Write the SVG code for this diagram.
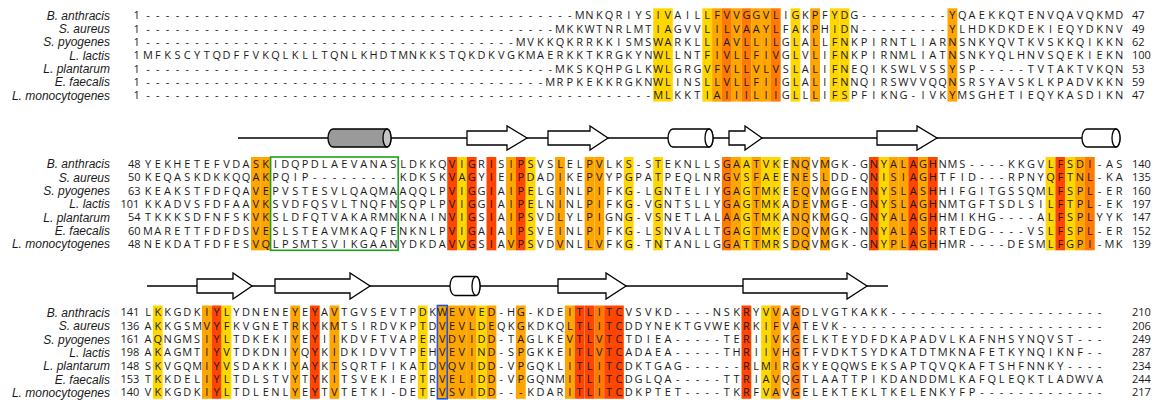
<svg xmlns="http://www.w3.org/2000/svg" width="1164" height="400" viewBox="0 0 1164 400">
<style>
.res{font-family:"Open Sans","Liberation Sans",sans-serif;font-size:11px;text-anchor:middle;fill:#1a1a1a}
.lbl{font-family:"Liberation Sans",Arial,sans-serif;font-style:italic;font-size:12px;text-anchor:end;fill:#1a1a1a}
.num{font-family:"Open Sans","Liberation Sans",sans-serif;font-size:11px;fill:#1a1a1a}
.y{fill:#FFD700}.a{fill:#FFA500}.b{fill:#FF7A00}.r{fill:#FF4500}
.ss{fill:none;stroke:#000;stroke-width:1.5}
.arr{fill:#fff;stroke:#000;stroke-width:1.3;stroke-linejoin:miter}
.cyl{fill:#fff;stroke:#000;stroke-width:1.3}
.cylg{fill:#9a9a9a;stroke:#000;stroke-width:1.3}
.capg{fill:#c4c4c4;stroke:#000;stroke-width:1.3}
</style>

<!-- block 1: residues 1-100 -->
<g id="block1">
  <g id="b1-shading">
    <rect class="y" x="653.2" y="8.3" width="9.81" height="93.3"/>
    <rect class="y" x="663.0" y="8.3" width="9.81" height="93.3"/>
    <rect class="y" x="702.3" y="8.3" width="9.81" height="93.3"/>
    <rect class="a" x="712.1" y="8.3" width="9.81" height="93.3"/>
    <rect class="b" x="721.9" y="8.3" width="9.81" height="93.3"/>
    <rect class="a" x="731.7" y="8.3" width="9.81" height="93.3"/>
    <rect class="b" x="741.5" y="8.3" width="9.81" height="93.3"/>
    <rect class="a" x="751.3" y="8.3" width="9.81" height="93.3"/>
    <rect class="a" x="761.1" y="8.3" width="9.81" height="93.3"/>
    <rect class="b" x="770.9" y="8.3" width="9.81" height="93.3"/>
    <rect class="y" x="790.6" y="8.3" width="9.81" height="93.3"/>
    <rect class="a" x="810.2" y="8.3" width="9.81" height="93.3"/>
    <rect class="y" x="829.8" y="8.3" width="9.81" height="93.3"/>
    <rect class="y" x="839.6" y="8.3" width="9.81" height="93.3"/>
    <rect class="a" x="947.5" y="8.3" width="9.81" height="93.3"/>
  </g>
  <g id="b1-labels">
    <text class="lbl" x="110" y="19.6">B. anthracis</text>
    <text class="lbl" x="110" y="32.9">S. aureus</text>
    <text class="lbl" x="110" y="46.3">S. pyogenes</text>
    <text class="lbl" x="110" y="59.6">L. lactis</text>
    <text class="lbl" x="110" y="72.9">L. plantarum</text>
    <text class="lbl" x="110" y="86.3">E. faecalis</text>
    <text class="lbl" x="110" y="99.6">L. monocytogenes</text>
  </g>
  <g id="b1-start" class="num">
    <text x="133.5" y="19.2">1</text><text x="133.5" y="32.5">1</text><text x="133.5" y="45.9">1</text><text x="133.5" y="59.2">1</text><text x="133.5" y="72.5">1</text><text x="133.5" y="85.9">1</text><text x="133.5" y="99.2">1</text>
  </g>
  <g id="b1-end" class="num">
    <text x="1132" y="19.2">47</text><text x="1132" y="32.5">49</text><text x="1132" y="45.9">62</text><text x="1132" y="59.2">100</text><text x="1132" y="72.5">53</text><text x="1132" y="85.9">59</text><text x="1132" y="99.2">47</text>
  </g>
  <g id="b1-seq" class="res">
    <text y="19.2" x="148 157.8 167.6 177.4 187.2 197.1 206.9 216.7 226.5 236.3 246.1 255.9 265.7 275.5 285.3 295.2 305 314.8 324.6 334.4 344.2 354 363.8 373.6 383.4 393.3 403.1 412.9 422.7 432.5 442.3 452.1 461.9 471.7 481.5 491.4 501.2 511 520.8 530.6 540.4 550.2 560 569.8 579.6 589.5 599.3 609.1 618.9 628.7 638.5 648.3 658.1 667.9 677.7 687.6 697.4 707.2 717 726.8 736.6 746.4 756.2 766 775.8 785.7 795.5 805.3 815.1 824.9 834.7 844.5 854.3 864.1 873.9 883.8 893.6 903.4 913.2 923 932.8 942.6 952.4 962.2 972 981.9 991.7 1001.5 1011.3 1021.1 1030.9 1040.7 1050.5 1060.3 1070.1 1080 1089.8 1099.6 1109.4 1119.2">--------------------------------------------MNKQRIYSIVAILLFVVGGVLIGKPFYDG---------YQAEKKQTENVQAVQKMD</text>
    <text y="32.5" x="148 157.8 167.6 177.4 187.2 197.1 206.9 216.7 226.5 236.3 246.1 255.9 265.7 275.5 285.3 295.2 305 314.8 324.6 334.4 344.2 354 363.8 373.6 383.4 393.3 403.1 412.9 422.7 432.5 442.3 452.1 461.9 471.7 481.5 491.4 501.2 511 520.8 530.6 540.4 550.2 560 569.8 579.6 589.5 599.3 609.1 618.9 628.7 638.5 648.3 658.1 667.9 677.7 687.6 697.4 707.2 717 726.8 736.6 746.4 756.2 766 775.8 785.7 795.5 805.3 815.1 824.9 834.7 844.5 854.3 864.1 873.9 883.8 893.6 903.4 913.2 923 932.8 942.6 952.4 962.2 972 981.9 991.7 1001.5 1011.3 1021.1 1030.9 1040.7 1050.5 1060.3 1070.1 1080 1089.8 1099.6 1109.4 1119.2">------------------------------------------MKKWTNRLMTIAGVVLILVAAYLFAKPHIDN---------YLHDKDKDEKIEQYDKNV</text>
    <text y="45.9" x="148 157.8 167.6 177.4 187.2 197.1 206.9 216.7 226.5 236.3 246.1 255.9 265.7 275.5 285.3 295.2 305 314.8 324.6 334.4 344.2 354 363.8 373.6 383.4 393.3 403.1 412.9 422.7 432.5 442.3 452.1 461.9 471.7 481.5 491.4 501.2 511 520.8 530.6 540.4 550.2 560 569.8 579.6 589.5 599.3 609.1 618.9 628.7 638.5 648.3 658.1 667.9 677.7 687.6 697.4 707.2 717 726.8 736.6 746.4 756.2 766 775.8 785.7 795.5 805.3 815.1 824.9 834.7 844.5 854.3 864.1 873.9 883.8 893.6 903.4 913.2 923 932.8 942.6 952.4 962.2 972 981.9 991.7 1001.5 1011.3 1021.1 1030.9 1040.7 1050.5 1060.3 1070.1 1080 1089.8 1099.6 1109.4 1119.2">--------------------------------------MVKKQKRRKKISMSWARKLLIAVLLILGLALLFNKPIRNTLIARNSNKYQVTKVSKKQIKKN</text>
    <text y="59.2" x="148 157.8 167.6 177.4 187.2 197.1 206.9 216.7 226.5 236.3 246.1 255.9 265.7 275.5 285.3 295.2 305 314.8 324.6 334.4 344.2 354 363.8 373.6 383.4 393.3 403.1 412.9 422.7 432.5 442.3 452.1 461.9 471.7 481.5 491.4 501.2 511 520.8 530.6 540.4 550.2 560 569.8 579.6 589.5 599.3 609.1 618.9 628.7 638.5 648.3 658.1 667.9 677.7 687.6 697.4 707.2 717 726.8 736.6 746.4 756.2 766 775.8 785.7 795.5 805.3 815.1 824.9 834.7 844.5 854.3 864.1 873.9 883.8 893.6 903.4 913.2 923 932.8 942.6 952.4 962.2 972 981.9 991.7 1001.5 1011.3 1021.1 1030.9 1040.7 1050.5 1060.3 1070.1 1080 1089.8 1099.6 1109.4 1119.2">MFKSCYTQDFFVKQLKLLTQNLKHDTMNKKSTQKDKVGKMAERKKTKRGKYNWLLNTFIVLLFIVGLVLIFNKPIRNMLIATNSNKYQLHNVSQEKIEKN</text>
    <text y="72.5" x="148 157.8 167.6 177.4 187.2 197.1 206.9 216.7 226.5 236.3 246.1 255.9 265.7 275.5 285.3 295.2 305 314.8 324.6 334.4 344.2 354 363.8 373.6 383.4 393.3 403.1 412.9 422.7 432.5 442.3 452.1 461.9 471.7 481.5 491.4 501.2 511 520.8 530.6 540.4 550.2 560 569.8 579.6 589.5 599.3 609.1 618.9 628.7 638.5 648.3 658.1 667.9 677.7 687.6 697.4 707.2 717 726.8 736.6 746.4 756.2 766 775.8 785.7 795.5 805.3 815.1 824.9 834.7 844.5 854.3 864.1 873.9 883.8 893.6 903.4 913.2 923 932.8 942.6 952.4 962.2 972 981.9 991.7 1001.5 1011.3 1021.1 1030.9 1040.7 1050.5 1060.3 1070.1 1080 1089.8 1099.6 1109.4 1119.2">------------------------------------------MKSKQHPGLKWLGRGVFVLLVLVSLALIFNEQIKSWLVSSYSP-----TVTAKTVKQN</text>
    <text y="85.9" x="148 157.8 167.6 177.4 187.2 197.1 206.9 216.7 226.5 236.3 246.1 255.9 265.7 275.5 285.3 295.2 305 314.8 324.6 334.4 344.2 354 363.8 373.6 383.4 393.3 403.1 412.9 422.7 432.5 442.3 452.1 461.9 471.7 481.5 491.4 501.2 511 520.8 530.6 540.4 550.2 560 569.8 579.6 589.5 599.3 609.1 618.9 628.7 638.5 648.3 658.1 667.9 677.7 687.6 697.4 707.2 717 726.8 736.6 746.4 756.2 766 775.8 785.7 795.5 805.3 815.1 824.9 834.7 844.5 854.3 864.1 873.9 883.8 893.6 903.4 913.2 923 932.8 942.6 952.4 962.2 972 981.9 991.7 1001.5 1011.3 1021.1 1030.9 1040.7 1050.5 1060.3 1070.1 1080 1089.8 1099.6 1109.4 1119.2">-----------------------------------------MRPKEKKRGKNWLINSLLVLLFIIGLALIFNNQIRSWVVQQNSRSYAVSKLKPADVKKN</text>
    <text y="99.2" x="148 157.8 167.6 177.4 187.2 197.1 206.9 216.7 226.5 236.3 246.1 255.9 265.7 275.5 285.3 295.2 305 314.8 324.6 334.4 344.2 354 363.8 373.6 383.4 393.3 403.1 412.9 422.7 432.5 442.3 452.1 461.9 471.7 481.5 491.4 501.2 511 520.8 530.6 540.4 550.2 560 569.8 579.6 589.5 599.3 609.1 618.9 628.7 638.5 648.3 658.1 667.9 677.7 687.6 697.4 707.2 717 726.8 736.6 746.4 756.2 766 775.8 785.7 795.5 805.3 815.1 824.9 834.7 844.5 854.3 864.1 873.9 883.8 893.6 903.4 913.2 923 932.8 942.6 952.4 962.2 972 981.9 991.7 1001.5 1011.3 1021.1 1030.9 1040.7 1050.5 1060.3 1070.1 1080 1089.8 1099.6 1109.4 1119.2">----------------------------------------------------MLKKTIAIIILIIGLLLIFSPFIKNG-IVKYMSGHETIEQYKASDIKN</text>
  </g>
</g>

<!-- block 2: secondary structure and residues 48-140 -->
<g id="block2">
  <g id="b2-structure">
    <line class="ss" x1="238" y1="138" x2="1082" y2="138"/>
    <path class="cylg" d="M333,129 H387 A4,9 0 0 1 387,147 H333 A5,9 0 0 1 333,129 Z"/>
    <ellipse class="capg" cx="387" cy="138" rx="4" ry="9"/>
    <path class="arr" d="M467,131 H507 V126 L527,138 L507,150 V145 H467 Z"/>
    <path class="arr" d="M548,131 H590 V126 L608,138 L590,150 V145 H548 Z"/>
    <path class="cyl" d="M673,129 H709 A4,9 0 0 1 709,147 H673 A5,9 0 0 1 673,129 Z"/>
    <ellipse class="cyl" cx="709" cy="138" rx="4" ry="9"/>
    <path class="arr" d="M729,131 H745 V126 L762,138 L745,150 V145 H729 Z"/>
    <path class="arr" d="M877,131 H917 V126 L937,138 L917,150 V145 H877 Z"/>
    <path class="cyl" d="M1087,129 H1116 A4,9 0 0 1 1116,147 H1087 A5,9 0 0 1 1087,129 Z"/>
    <ellipse class="cyl" cx="1116" cy="138" rx="4" ry="9"/>
  </g>
  <g id="b2-shading">
    <rect class="a" x="251.0" y="157" width="9.81" height="93.3"/>
    <rect class="a" x="260.8" y="157" width="9.81" height="93.3"/>
    <rect class="r" x="447.2" y="157" width="9.81" height="93.3"/>
    <rect class="y" x="457.0" y="157" width="9.81" height="93.3"/>
    <rect class="r" x="466.8" y="157" width="9.81" height="93.3"/>
    <rect class="r" x="486.5" y="157" width="9.81" height="93.3"/>
    <rect class="a" x="506.1" y="157" width="9.81" height="93.3"/>
    <rect class="r" x="515.9" y="157" width="9.81" height="93.3"/>
    <rect class="y" x="525.7" y="157" width="9.81" height="93.3"/>
    <rect class="a" x="555.1" y="157" width="9.81" height="93.3"/>
    <rect class="a" x="584.6" y="157" width="9.81" height="93.3"/>
    <rect class="a" x="594.4" y="157" width="9.81" height="93.3"/>
    <rect class="y" x="623.8" y="157" width="9.81" height="93.3"/>
    <rect class="y" x="653.2" y="157" width="9.81" height="93.3"/>
    <rect class="b" x="721.9" y="157" width="9.81" height="93.3"/>
    <rect class="a" x="731.7" y="157" width="9.81" height="93.3"/>
    <rect class="y" x="741.5" y="157" width="9.81" height="93.3"/>
    <rect class="a" x="751.3" y="157" width="9.81" height="93.3"/>
    <rect class="y" x="761.1" y="157" width="9.81" height="93.3"/>
    <rect class="y" x="770.9" y="157" width="9.81" height="93.3"/>
    <rect class="a" x="790.6" y="157" width="9.81" height="93.3"/>
    <rect class="a" x="800.4" y="157" width="9.81" height="93.3"/>
    <rect class="a" x="820.0" y="157" width="9.81" height="93.3"/>
    <rect class="r" x="869.0" y="157" width="9.81" height="93.3"/>
    <rect class="y" x="878.9" y="157" width="9.81" height="93.3"/>
    <rect class="a" x="888.7" y="157" width="9.81" height="93.3"/>
    <rect class="a" x="898.5" y="157" width="9.81" height="93.3"/>
    <rect class="r" x="908.3" y="157" width="9.81" height="93.3"/>
    <rect class="a" x="918.1" y="157" width="9.81" height="93.3"/>
    <rect class="r" x="927.9" y="157" width="9.81" height="93.3"/>
    <rect class="y" x="1045.6" y="157" width="9.81" height="93.3"/>
    <rect class="r" x="1055.4" y="157" width="9.81" height="93.3"/>
    <rect class="y" x="1065.2" y="157" width="9.81" height="93.3"/>
    <rect class="a" x="1075.1" y="157" width="9.81" height="93.3"/>
    <rect class="b" x="1084.9" y="157" width="9.81" height="93.3"/>
  </g>
  <rect id="b2-box" x="270.6" y="157" width="127.6" height="93.3" fill="none" stroke="#1aa31a" stroke-width="1.6"/>
  <g id="b2-labels">
    <text class="lbl" x="110" y="168.3">B. anthracis</text>
    <text class="lbl" x="110" y="181.6">S. aureus</text>
    <text class="lbl" x="110" y="195">S. pyogenes</text>
    <text class="lbl" x="110" y="208.3">L. lactis</text>
    <text class="lbl" x="110" y="221.6">L. plantarum</text>
    <text class="lbl" x="110" y="235">E. faecalis</text>
    <text class="lbl" x="110" y="248.3">L. monocytogenes</text>
  </g>
  <g id="b2-start" class="num">
    <text x="128" y="167.9">48</text><text x="128" y="181.2">50</text><text x="128" y="194.6">63</text><text x="120.5" y="207.9">101</text><text x="128" y="221.2">54</text><text x="128" y="234.6">60</text><text x="128" y="247.9">48</text>
  </g>
  <g id="b2-end" class="num">
    <text x="1132" y="167.9">140</text><text x="1132" y="181.2">135</text><text x="1132" y="194.6">160</text><text x="1132" y="207.9">197</text><text x="1132" y="221.2">147</text><text x="1132" y="234.6">152</text><text x="1132" y="247.9">139</text>
  </g>
  <g id="b2-seq" class="res">
    <text y="167.9" x="148 157.8 167.6 177.4 187.2 197.1 206.9 216.7 226.5 236.3 246.1 255.9 265.7 275.5 285.3 295.2 305 314.8 324.6 334.4 344.2 354 363.8 373.6 383.4 393.3 403.1 412.9 422.7 432.5 442.3 452.1 461.9 471.7 481.5 491.4 501.2 511 520.8 530.6 540.4 550.2 560 569.8 579.6 589.5 599.3 609.1 618.9 628.7 638.5 648.3 658.1 667.9 677.7 687.6 697.4 707.2 717 726.8 736.6 746.4 756.2 766 775.8 785.7 795.5 805.3 815.1 824.9 834.7 844.5 854.3 864.1 873.9 883.8 893.6 903.4 913.2 923 932.8 942.6 952.4 962.2 972 981.9 991.7 1001.5 1011.3 1021.1 1030.9 1040.7 1050.5 1060.3 1070.1 1080 1089.8 1099.6 1109.4 1119.2">YEKHETEFVDASKIDQPDLAEVANASLDKKQVIGRISIPSVSLELPVLKS-STEKNLLSGAATVKENQVMGK-GNYALAGHNMS----KKGVLFSDI-AS</text>
    <text y="181.2" x="148 157.8 167.6 177.4 187.2 197.1 206.9 216.7 226.5 236.3 246.1 255.9 265.7 275.5 285.3 295.2 305 314.8 324.6 334.4 344.2 354 363.8 373.6 383.4 393.3 403.1 412.9 422.7 432.5 442.3 452.1 461.9 471.7 481.5 491.4 501.2 511 520.8 530.6 540.4 550.2 560 569.8 579.6 589.5 599.3 609.1 618.9 628.7 638.5 648.3 658.1 667.9 677.7 687.6 697.4 707.2 717 726.8 736.6 746.4 756.2 766 775.8 785.7 795.5 805.3 815.1 824.9 834.7 844.5 854.3 864.1 873.9 883.8 893.6 903.4 913.2 923 932.8 942.6 952.4 962.2 972 981.9 991.7 1001.5 1011.3 1021.1 1030.9 1040.7 1050.5 1060.3 1070.1 1080 1089.8 1099.6 1109.4 1119.2">KEQASKDKKQQAKPQIP---------KDKSKVAGYIEIPDADIKEPVYPGPATPEQLNRGVSFAEENESLDD-QNISIAGHTFID---RPNYQFTNL-KA</text>
    <text y="194.6" x="148 157.8 167.6 177.4 187.2 197.1 206.9 216.7 226.5 236.3 246.1 255.9 265.7 275.5 285.3 295.2 305 314.8 324.6 334.4 344.2 354 363.8 373.6 383.4 393.3 403.1 412.9 422.7 432.5 442.3 452.1 461.9 471.7 481.5 491.4 501.2 511 520.8 530.6 540.4 550.2 560 569.8 579.6 589.5 599.3 609.1 618.9 628.7 638.5 648.3 658.1 667.9 677.7 687.6 697.4 707.2 717 726.8 736.6 746.4 756.2 766 775.8 785.7 795.5 805.3 815.1 824.9 834.7 844.5 854.3 864.1 873.9 883.8 893.6 903.4 913.2 923 932.8 942.6 952.4 962.2 972 981.9 991.7 1001.5 1011.3 1021.1 1030.9 1040.7 1050.5 1060.3 1070.1 1080 1089.8 1099.6 1109.4 1119.2">KEAKSTFDFQAVEPVSTESVLQAQMAAQQLPVIGGIAIPELGINLPIFKG-LGNTELIYGAGTMKEEQVMGGENNYSLASHHIFGITGSSQMLFSPL-ER</text>
    <text y="207.9" x="148 157.8 167.6 177.4 187.2 197.1 206.9 216.7 226.5 236.3 246.1 255.9 265.7 275.5 285.3 295.2 305 314.8 324.6 334.4 344.2 354 363.8 373.6 383.4 393.3 403.1 412.9 422.7 432.5 442.3 452.1 461.9 471.7 481.5 491.4 501.2 511 520.8 530.6 540.4 550.2 560 569.8 579.6 589.5 599.3 609.1 618.9 628.7 638.5 648.3 658.1 667.9 677.7 687.6 697.4 707.2 717 726.8 736.6 746.4 756.2 766 775.8 785.7 795.5 805.3 815.1 824.9 834.7 844.5 854.3 864.1 873.9 883.8 893.6 903.4 913.2 923 932.8 942.6 952.4 962.2 972 981.9 991.7 1001.5 1011.3 1021.1 1030.9 1040.7 1050.5 1060.3 1070.1 1080 1089.8 1099.6 1109.4 1119.2">KKADVSFDFAAVKSVDFQSVLTNQFNSQPLPVIGGIAIPELNINLPIFKG-VGNTSLLYGAGTMKADEVMGE-GNYSLAGHNMTGFTSDLSILFTPL-EK</text>
    <text y="221.2" x="148 157.8 167.6 177.4 187.2 197.1 206.9 216.7 226.5 236.3 246.1 255.9 265.7 275.5 285.3 295.2 305 314.8 324.6 334.4 344.2 354 363.8 373.6 383.4 393.3 403.1 412.9 422.7 432.5 442.3 452.1 461.9 471.7 481.5 491.4 501.2 511 520.8 530.6 540.4 550.2 560 569.8 579.6 589.5 599.3 609.1 618.9 628.7 638.5 648.3 658.1 667.9 677.7 687.6 697.4 707.2 717 726.8 736.6 746.4 756.2 766 775.8 785.7 795.5 805.3 815.1 824.9 834.7 844.5 854.3 864.1 873.9 883.8 893.6 903.4 913.2 923 932.8 942.6 952.4 962.2 972 981.9 991.7 1001.5 1011.3 1021.1 1030.9 1040.7 1050.5 1060.3 1070.1 1080 1089.8 1099.6 1109.4 1119.2">TKKKSDFNFSKVKSLDFQTVAKARMNKNAINVIGSIAIPSVDLYLPIGNG-VSNETLALAAGTMKANQKMGQ-GNYALAGHHMIKHG----ALFSPLYYK</text>
    <text y="234.6" x="148 157.8 167.6 177.4 187.2 197.1 206.9 216.7 226.5 236.3 246.1 255.9 265.7 275.5 285.3 295.2 305 314.8 324.6 334.4 344.2 354 363.8 373.6 383.4 393.3 403.1 412.9 422.7 432.5 442.3 452.1 461.9 471.7 481.5 491.4 501.2 511 520.8 530.6 540.4 550.2 560 569.8 579.6 589.5 599.3 609.1 618.9 628.7 638.5 648.3 658.1 667.9 677.7 687.6 697.4 707.2 717 726.8 736.6 746.4 756.2 766 775.8 785.7 795.5 805.3 815.1 824.9 834.7 844.5 854.3 864.1 873.9 883.8 893.6 903.4 913.2 923 932.8 942.6 952.4 962.2 972 981.9 991.7 1001.5 1011.3 1021.1 1030.9 1040.7 1050.5 1060.3 1070.1 1080 1089.8 1099.6 1109.4 1119.2">MARETTFDFDSVESLSTEAVMKAQFENKNLPVIGAIAIPSVEINLPIFKG-LSNVALLTGAGTMKEDQVMGK-NNYALASHRTEDG----VSLFSPL-ER</text>
    <text y="247.9" x="148 157.8 167.6 177.4 187.2 197.1 206.9 216.7 226.5 236.3 246.1 255.9 265.7 275.5 285.3 295.2 305 314.8 324.6 334.4 344.2 354 363.8 373.6 383.4 393.3 403.1 412.9 422.7 432.5 442.3 452.1 461.9 471.7 481.5 491.4 501.2 511 520.8 530.6 540.4 550.2 560 569.8 579.6 589.5 599.3 609.1 618.9 628.7 638.5 648.3 658.1 667.9 677.7 687.6 697.4 707.2 717 726.8 736.6 746.4 756.2 766 775.8 785.7 795.5 805.3 815.1 824.9 834.7 844.5 854.3 864.1 873.9 883.8 893.6 903.4 913.2 923 932.8 942.6 952.4 962.2 972 981.9 991.7 1001.5 1011.3 1021.1 1030.9 1040.7 1050.5 1060.3 1070.1 1080 1089.8 1099.6 1109.4 1119.2">NEKDATFDFESVQLPSMTSVIKGAANYDKDAVVGSIAVPSVDVNLLVFKG-TNTANLLGGATTMRSDQVMGK-GNYPLAGHHMR----DESMLFGPI-MK</text>
  </g>
</g>

<!-- block 3: secondary structure and residues 141-287 -->
<g id="block3">
  <g id="b3-structure">
    <line class="ss" x1="147" y1="286" x2="888" y2="286"/>
    <path class="arr" d="M197,279 H233 V273 L252,286 L233,299 V293 H197 Z"/>
    <path class="arr" d="M275,279 H350 V273 L370,286 L350,299 V293 H275 Z"/>
    <path class="cyl" d="M455,276.5 H476 A4,9.5 0 0 1 476,295.5 H455 A5,9.5 0 0 1 455,276.5 Z"/>
    <ellipse class="cyl" cx="476" cy="286" rx="4" ry="9.5"/>
    <path class="arr" d="M558,279 H606 V273 L626,286 L606,299 V293 H558 Z"/>
    <path class="arr" d="M743,279 H847 V273 L867,286 L847,299 V293 H743 Z"/>
  </g>
  <g id="b3-shading">
    <rect class="y" x="152.9" y="305.5" width="9.81" height="93.3"/>
    <rect class="a" x="202.0" y="305.5" width="9.81" height="93.3"/>
    <rect class="r" x="211.8" y="305.5" width="9.81" height="93.3"/>
    <rect class="y" x="221.6" y="305.5" width="9.81" height="93.3"/>
    <rect class="a" x="290.3" y="305.5" width="9.81" height="93.3"/>
    <rect class="r" x="309.9" y="305.5" width="9.81" height="93.3"/>
    <rect class="a" x="329.5" y="305.5" width="9.81" height="93.3"/>
    <rect class="y" x="417.8" y="305.5" width="9.81" height="93.3"/>
    <rect class="a" x="437.4" y="305.5" width="9.81" height="93.3"/>
    <rect class="a" x="447.2" y="305.5" width="9.81" height="93.3"/>
    <rect class="a" x="457.0" y="305.5" width="9.81" height="93.3"/>
    <rect class="a" x="466.8" y="305.5" width="9.81" height="93.3"/>
    <rect class="y" x="476.6" y="305.5" width="9.81" height="93.3"/>
    <rect class="a" x="486.5" y="305.5" width="9.81" height="93.3"/>
    <rect class="a" x="515.9" y="305.5" width="9.81" height="93.3"/>
    <rect class="a" x="564.9" y="305.5" width="9.81" height="93.3"/>
    <rect class="r" x="574.7" y="305.5" width="9.81" height="93.3"/>
    <rect class="r" x="584.6" y="305.5" width="9.81" height="93.3"/>
    <rect class="b" x="594.4" y="305.5" width="9.81" height="93.3"/>
    <rect class="r" x="604.2" y="305.5" width="9.81" height="93.3"/>
    <rect class="r" x="614.0" y="305.5" width="9.81" height="93.3"/>
    <rect class="r" x="741.5" y="305.5" width="9.81" height="93.3"/>
    <rect class="y" x="761.1" y="305.5" width="9.81" height="93.3"/>
    <rect class="a" x="770.9" y="305.5" width="9.81" height="93.3"/>
    <rect class="b" x="790.6" y="305.5" width="9.81" height="93.3"/>
  </g>
  <rect id="b3-box" x="437.4" y="305.5" width="9.81" height="93.3" fill="none" stroke="#2255dd" stroke-width="1.6"/>
  <g id="b3-labels">
    <text class="lbl" x="110" y="316.8">B. anthracis</text>
    <text class="lbl" x="110" y="330.1">S. aureus</text>
    <text class="lbl" x="110" y="343.5">S. pyogenes</text>
    <text class="lbl" x="110" y="356.8">L. lactis</text>
    <text class="lbl" x="110" y="370.1">L. plantarum</text>
    <text class="lbl" x="110" y="383.5">E. faecalis</text>
    <text class="lbl" x="110" y="396.8">L. monocytogenes</text>
  </g>
  <g id="b3-start" class="num">
    <text x="120.5" y="316.4">141</text><text x="120.5" y="329.7">136</text><text x="120.5" y="343.1">161</text><text x="120.5" y="356.4">198</text><text x="120.5" y="369.7">148</text><text x="120.5" y="383.1">153</text><text x="120.5" y="396.4">140</text>
  </g>
  <g id="b3-end" class="num">
    <text x="1132" y="316.4">210</text><text x="1132" y="329.7">206</text><text x="1132" y="343.1">249</text><text x="1132" y="356.4">287</text><text x="1132" y="369.7">234</text><text x="1132" y="383.1">244</text><text x="1132" y="396.4">217</text>
  </g>
  <g id="b3-seq" class="res">
    <text y="316.4" x="148 157.8 167.6 177.4 187.2 197.1 206.9 216.7 226.5 236.3 246.1 255.9 265.7 275.5 285.3 295.2 305 314.8 324.6 334.4 344.2 354 363.8 373.6 383.4 393.3 403.1 412.9 422.7 432.5 442.3 452.1 461.9 471.7 481.5 491.4 501.2 511 520.8 530.6 540.4 550.2 560 569.8 579.6 589.5 599.3 609.1 618.9 628.7 638.5 648.3 658.1 667.9 677.7 687.6 697.4 707.2 717 726.8 736.6 746.4 756.2 766 775.8 785.7 795.5 805.3 815.1 824.9 834.7 844.5 854.3 864.1 873.9 883.8 893.6 903.4 913.2 923 932.8 942.6 952.4 962.2 972 981.9 991.7 1001.5 1011.3 1021.1 1030.9 1040.7 1050.5 1060.3 1070.1 1080 1089.8 1099.6">LKKGDKIYLYDNENEYEYAVTGVSEVTPDKWEVVED-HG-KDEITLITCVSVKD----NSKRYVVAGDLVGTKAKK----------------------</text>
    <text y="329.7" x="148 157.8 167.6 177.4 187.2 197.1 206.9 216.7 226.5 236.3 246.1 255.9 265.7 275.5 285.3 295.2 305 314.8 324.6 334.4 344.2 354 363.8 373.6 383.4 393.3 403.1 412.9 422.7 432.5 442.3 452.1 461.9 471.7 481.5 491.4 501.2 511 520.8 530.6 540.4 550.2 560 569.8 579.6 589.5 599.3 609.1 618.9 628.7 638.5 648.3 658.1 667.9 677.7 687.6 697.4 707.2 717 726.8 736.6 746.4 756.2 766 775.8 785.7 795.5 805.3 815.1 824.9 834.7 844.5 854.3 864.1 873.9 883.8 893.6 903.4 913.2 923 932.8 942.6 952.4 962.2 972 981.9 991.7 1001.5 1011.3 1021.1 1030.9 1040.7 1050.5 1060.3 1070.1 1080 1089.8 1099.6">AKKGSMVYFKVGNETRKYKMTSIRDVKPTDVEVLDEQKGKDKQLTLITCDDYNEKTGVWEKRKIFVATEVK---------------------------</text>
    <text y="343.1" x="148 157.8 167.6 177.4 187.2 197.1 206.9 216.7 226.5 236.3 246.1 255.9 265.7 275.5 285.3 295.2 305 314.8 324.6 334.4 344.2 354 363.8 373.6 383.4 393.3 403.1 412.9 422.7 432.5 442.3 452.1 461.9 471.7 481.5 491.4 501.2 511 520.8 530.6 540.4 550.2 560 569.8 579.6 589.5 599.3 609.1 618.9 628.7 638.5 648.3 658.1 667.9 677.7 687.6 697.4 707.2 717 726.8 736.6 746.4 756.2 766 775.8 785.7 795.5 805.3 815.1 824.9 834.7 844.5 854.3 864.1 873.9 883.8 893.6 903.4 913.2 923 932.8 942.6 952.4 962.2 972 981.9 991.7 1001.5 1011.3 1021.1 1030.9 1040.7 1050.5 1060.3 1070.1 1080 1089.8 1099.6">AQNGMSIYLTDKEKIYEYIIKDVFTVAPERVDVIDD-TAGLKEVTLVTCTDIEA-----TERIIVKGELKTEYDFDKAPADVLKAFNHSYNQVST---</text>
    <text y="356.4" x="148 157.8 167.6 177.4 187.2 197.1 206.9 216.7 226.5 236.3 246.1 255.9 265.7 275.5 285.3 295.2 305 314.8 324.6 334.4 344.2 354 363.8 373.6 383.4 393.3 403.1 412.9 422.7 432.5 442.3 452.1 461.9 471.7 481.5 491.4 501.2 511 520.8 530.6 540.4 550.2 560 569.8 579.6 589.5 599.3 609.1 618.9 628.7 638.5 648.3 658.1 667.9 677.7 687.6 697.4 707.2 717 726.8 736.6 746.4 756.2 766 775.8 785.7 795.5 805.3 815.1 824.9 834.7 844.5 854.3 864.1 873.9 883.8 893.6 903.4 913.2 923 932.8 942.6 952.4 962.2 972 981.9 991.7 1001.5 1011.3 1021.1 1030.9 1040.7 1050.5 1060.3 1070.1 1080 1089.8 1099.6">AKAGMTIYVTDKDNIYQYKIDKIDVVTPEHVEVIND-SPGKKEITLVTCADAEA-----THRIIVHGTFVDKTSYDKATDTMKNAFETKYNQIKNF--</text>
    <text y="369.7" x="148 157.8 167.6 177.4 187.2 197.1 206.9 216.7 226.5 236.3 246.1 255.9 265.7 275.5 285.3 295.2 305 314.8 324.6 334.4 344.2 354 363.8 373.6 383.4 393.3 403.1 412.9 422.7 432.5 442.3 452.1 461.9 471.7 481.5 491.4 501.2 511 520.8 530.6 540.4 550.2 560 569.8 579.6 589.5 599.3 609.1 618.9 628.7 638.5 648.3 658.1 667.9 677.7 687.6 697.4 707.2 717 726.8 736.6 746.4 756.2 766 775.8 785.7 795.5 805.3 815.1 824.9 834.7 844.5 854.3 864.1 873.9 883.8 893.6 903.4 913.2 923 932.8 942.6 952.4 962.2 972 981.9 991.7 1001.5 1011.3 1021.1 1030.9 1040.7 1050.5 1060.3 1070.1 1080 1089.8 1099.6">SKVGQMIYVSDAKKIYAYKTSQRTFIKATDVQVIDD-VPGQKLITLITCDKTGAG------RLMIRGKYEQQWSEKSAPTQVQKAFTSHFNNKY----</text>
    <text y="383.1" x="148 157.8 167.6 177.4 187.2 197.1 206.9 216.7 226.5 236.3 246.1 255.9 265.7 275.5 285.3 295.2 305 314.8 324.6 334.4 344.2 354 363.8 373.6 383.4 393.3 403.1 412.9 422.7 432.5 442.3 452.1 461.9 471.7 481.5 491.4 501.2 511 520.8 530.6 540.4 550.2 560 569.8 579.6 589.5 599.3 609.1 618.9 628.7 638.5 648.3 658.1 667.9 677.7 687.6 697.4 707.2 717 726.8 736.6 746.4 756.2 766 775.8 785.7 795.5 805.3 815.1 824.9 834.7 844.5 854.3 864.1 873.9 883.8 893.6 903.4 913.2 923 932.8 942.6 952.4 962.2 972 981.9 991.7 1001.5 1011.3 1021.1 1030.9 1040.7 1050.5 1060.3 1070.1 1080 1089.8 1099.6">TKKDELIYLTDLSTVYTYKITSVEKIEPTRVELIDD-VPGQNMITLITCDGLQA-----TTRIAVQGTLAATTPIKDANDDMLKAFQLEQKTLADWVA</text>
    <text y="396.4" x="148 157.8 167.6 177.4 187.2 197.1 206.9 216.7 226.5 236.3 246.1 255.9 265.7 275.5 285.3 295.2 305 314.8 324.6 334.4 344.2 354 363.8 373.6 383.4 393.3 403.1 412.9 422.7 432.5 442.3 452.1 461.9 471.7 481.5 491.4 501.2 511 520.8 530.6 540.4 550.2 560 569.8 579.6 589.5 599.3 609.1 618.9 628.7 638.5 648.3 658.1 667.9 677.7 687.6 697.4 707.2 717 726.8 736.6 746.4 756.2 766 775.8 785.7 795.5 805.3 815.1 824.9 834.7 844.5 854.3 864.1 873.9 883.8 893.6 903.4 913.2 923 932.8 942.6 952.4 962.2 972 981.9 991.7 1001.5 1011.3 1021.1 1030.9 1040.7 1050.5 1060.3 1070.1 1080 1089.8 1099.6">VKKGDKIYLTDLENLYEYTVTETKI-DETEVSVIDD---KDARITLITCDKPTET----TKRFVAVGELEKTEKLTKELENKYFP-------------</text>
  </g>
</g>
</svg>
